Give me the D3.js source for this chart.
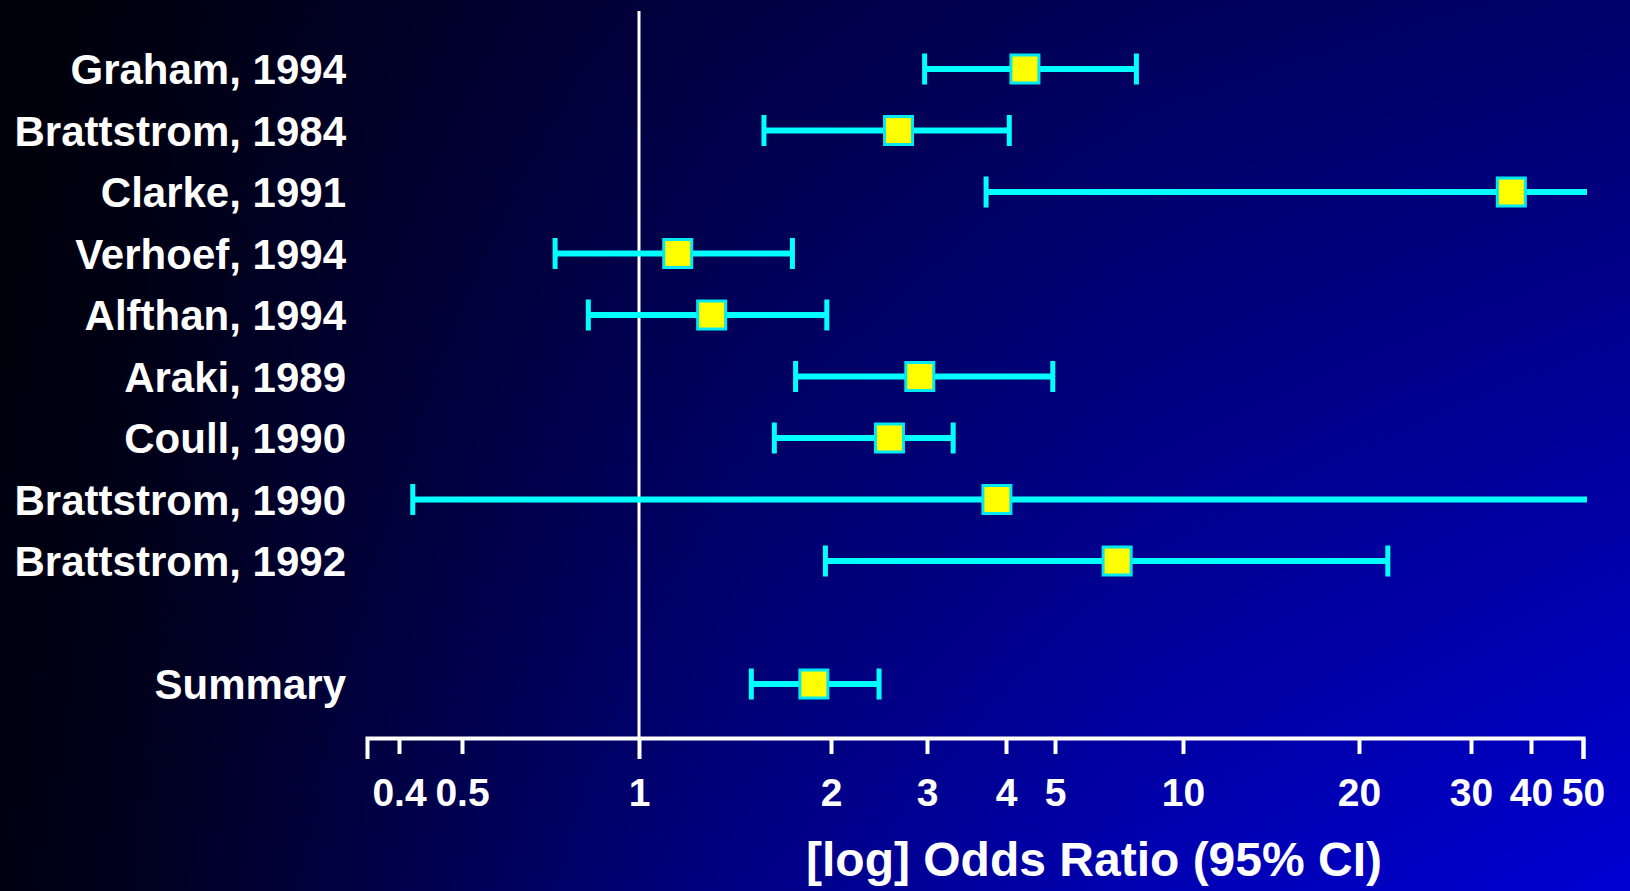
<!DOCTYPE html>
<html>
<head>
<meta charset="utf-8">
<script src="https://cdn.jsdelivr.net/npm/d3@7"></script>
<style>
  html, body { margin: 0; padding: 0; background: #000010; overflow: hidden; }
  text { font-family: "Liberation Sans", Arial, sans-serif; font-weight: bold; fill: #fff; }
</style>
</head>
<body>
<div id="chart"></div>
<script>
// study names, top to bottom
var studies = ["Graham, 1994", "Brattstrom, 1984", "Clarke, 1991", "Verhoef, 1994",
  "Alfthan, 1994", "Araki, 1989", "Coull, 1990", "Brattstrom, 1990", "Brattstrom, 1992"];
// odds ratio point estimates and 95% CI (upper > 50 runs off the axis)
var oddsRatio = [4.36, 2.66, 36.4, 1.15, 1.30, 2.91, 2.56, 3.87, 7.0];
var ciLow     = [2.97, 1.57, 3.72, 0.72, 0.82, 1.76, 1.63, 0.42, 1.96];
var ciHigh    = [7.77, 4.06, 60,   1.74, 1.97, 4.95, 3.30, 60,   22.2];

var summaryLabel = "Summary";
var summaryOR = 1.88, summaryLow = 1.50, summaryHigh = 2.45;

var tickValues = [0.4, 0.5, 1, 2, 3, 4, 5, 10, 20, 30, 40, 50];
var axisTitle = "[log] Odds Ratio (95% CI)";

(function() {
	var W = 1630, H = 891;
	var svg = d3.select("#chart").append("svg")
		.attr("width", W)
		.attr("height", H);

	// background: dark left, brighter blue toward bottom right
	var defs = svg.append("defs");
	var gh = defs.append("linearGradient").attr("id", "bgH")
		.attr("x1", "0%").attr("y1", "0%").attr("x2", "100%").attr("y2", "0%");
	[[0, "#000012"], [0.08, "#00001e"], [0.25, "#00004c"], [0.45, "#000084"],
	 [0.7, "#0000b2"], [1, "#0000d2"]].forEach(function(s) {
		gh.append("stop").attr("offset", s[0]).attr("stop-color", s[1]);
	});
	var gv = defs.append("linearGradient").attr("id", "bgV")
		.attr("x1", "0%").attr("y1", "0%").attr("x2", "0%").attr("y2", "100%");
	gv.append("stop").attr("offset", 0).attr("stop-color", "#000").attr("stop-opacity", 0.5);
	gv.append("stop").attr("offset", 1).attr("stop-color", "#000").attr("stop-opacity", 0);

	svg.append("rect").attr("width", W).attr("height", H).attr("fill", "url(#bgH)");
	svg.append("rect").attr("width", W).attr("height", H).attr("fill", "url(#bgV)");

	// the slide's log axis is hand spaced, so calibrate it piecewise on its ticks
	var axisDomain = [0.35].concat(tickValues);
	var axisPx = [367, 399, 462, 639, 831, 927, 1006, 1055, 1183, 1359, 1471, 1531, 1583];
	var x = d3.scaleLog().domain(axisDomain).range(axisPx).clamp(true);
	var xMax = d3.max(axisDomain);

	var rows = studies.concat(["", summaryLabel]);
	var y = d3.scalePoint().domain(rows).range([69, 684]);

	var axisY = 738;

	// reference line at OR = 1
	svg.append("line")
		.attr("x1", x(1)).attr("x2", x(1))
		.attr("y1", 11).attr("y2", axisY)
		.attr("stroke", "#fff")
		.attr("stroke-width", 3);

	// x axis
	var gx = svg.append("g")
		.attr("transform", "translate(0," + axisY + ")")
		.style("color", "#fff")
		.call(d3.axisBottom(x)
			.tickValues(tickValues)
			.tickFormat(function(d) { return d; })
			.tickSize(16)
			.tickSizeOuter(21)
			.tickPadding(24));
	gx.select(".domain").attr("stroke-width", 4);
	gx.selectAll(".tick line").attr("stroke-width", 4)
		.attr("y2", function(d) { return d === 1 || d === xMax ? 21 : 16; });
	gx.selectAll(".tick text")
		.attr("font-size", 39)
		.attr("font-family", null)
		.attr("fill", "#fff");

	svg.append("text")
		.attr("x", 1094)
		.attr("y", 876)
		.attr("text-anchor", "middle")
		.attr("font-size", 48)
		.text(axisTitle);

	var data = studies.map(function(s, i) {
		return { name: s, or: oddsRatio[i], lo: ciLow[i], hi: ciHigh[i] };
	});
	data.push({ name: summaryLabel, or: summaryOR, lo: summaryLow, hi: summaryHigh });

	// row labels
	svg.append("g").selectAll("text")
		.data(data)
		.enter().append("text")
		.attr("x", 346)
		.attr("y", function(d) { return y(d.name) + 15; })
		.attr("text-anchor", "end")
		.attr("font-size", 42)
		.text(function(d) { return d.name; });

	var g = svg.append("g");
	var cyan = "#00ffff", capH = 31, box = 28;

	// whiskers
	g.selectAll(".ci")
		.data(data)
		.enter().append("line")
		.attr("x1", function(d) { return x(d.lo); })
		.attr("x2", function(d) { return x(d.hi) + (d.hi > xMax ? 4 : 0); })
		.attr("y1", function(d) { return y(d.name); })
		.attr("y2", function(d) { return y(d.name); })
		.attr("stroke", cyan)
		.attr("stroke-width", 6);

	// end caps (none where the interval runs past the axis)
	var caps = [];
	data.forEach(function(d) {
		caps.push({ v: d.lo, name: d.name });
		if (d.hi <= xMax) caps.push({ v: d.hi, name: d.name });
	});
	g.selectAll(".cap")
		.data(caps)
		.enter().append("rect")
		.attr("x", function(d) { return x(d.v) - 2.5; })
		.attr("y", function(d) { return y(d.name) - capH / 2; })
		.attr("width", 5)
		.attr("height", capH)
		.attr("fill", cyan);

	// point estimates
	g.selectAll(".pt")
		.data(data)
		.enter().append("rect")
		.attr("x", function(d) { return x(d.or) - box / 2; })
		.attr("y", function(d) { return y(d.name) - box / 2; })
		.attr("width", box)
		.attr("height", box)
		.attr("fill", "#ffff00")
		.attr("stroke", "#00e8f0")
		.attr("stroke-width", 3);
})();
</script>
</body>
</html>
